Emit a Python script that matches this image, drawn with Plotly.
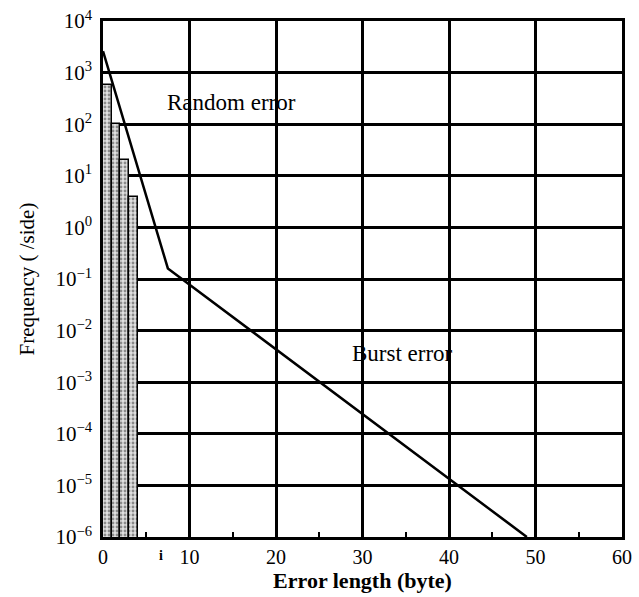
import plotly.graph_objects as go

# Data
bar_x = [0.5, 1.5, 2.5, 3.5]
bar_y = [580, 100, 20, 3.9]
line_x = [0, 7.5, 49]
line_y = [2600, 0.16, 1e-6]
y_exps = [-6, -5, -4, -3, -2, -1, 0, 1, 2, 3, 4]
x_ticks = [0, 10, 20, 30, 40, 50, 60]

serif = "Liberation Serif, Times New Roman, serif"

fig = go.Figure()
fig.add_trace(go.Bar(
    x=bar_x, y=bar_y, width=1.0,
    marker=dict(color="#e0e0e0",
                pattern=dict(shape=".", fgcolor="#333", bgcolor="#e0e0e0", size=4, solidity=0.4),
                line=dict(color="black", width=1.5)),
    showlegend=False,
))
fig.add_trace(go.Scatter(
    x=line_x, y=line_y, mode="lines",
    line=dict(color="black", width=2.5), showlegend=False,
))

fig.add_annotation(x=14.8, y=2.42, yref="y", text="Random error", showarrow=False,
                   font=dict(family=serif, size=23, color="black"))
fig.add_annotation(x=34.6, y=-2.45, yref="y", text="Burst error", showarrow=False,
                   font=dict(family=serif, size=23, color="black"))
fig.add_annotation(x=0.104, y=-0.055, xref="paper", yref="paper", text="<b>i</b>", showarrow=False,
                   font=dict(family=serif, size=14, color="black"))

ticktext = ["10<sup>%s</sup>" % (("\u2212%d" % -e) if e < 0 else str(e)) for e in y_exps]

fig.update_layout(
    width=639, height=597,
    margin=dict(l=103, r=17, t=21, b=60, autoexpand=False),
    paper_bgcolor="white", plot_bgcolor="white",
    bargap=0,
    font=dict(family=serif, size=20, color="black"),
    xaxis=dict(range=[0, 60], tickvals=x_ticks, showgrid=True, gridcolor="black", gridwidth=2.5,
               showline=True, linecolor="black", linewidth=2.5, mirror=True,
               ticks="", zeroline=False, automargin=False,
               minor=dict(tickvals=[5, 15, 25, 35, 45, 55], ticks="inside", ticklen=5,
                          tickcolor="black", tickwidth=2, showgrid=False),
               title=dict(text="<b>Error length (byte)</b>", font=dict(family=serif, size=22), standoff=6),
               tickfont=dict(family=serif, size=20)),
    yaxis=dict(type="log", range=[-6, 4], tickvals=[10 ** e for e in y_exps], ticktext=ticktext,
               showgrid=True, gridcolor="black", gridwidth=2.5,
               showline=True, linecolor="black", linewidth=2.5, mirror=True,
               ticks="", zeroline=False, ticklabelstandoff=4, automargin=False,
               title=dict(text="Frequency ( /side)", font=dict(family=serif, size=21), standoff=16),
               tickfont=dict(family=serif, size=21)),
)

fig.write_html("out.html")
